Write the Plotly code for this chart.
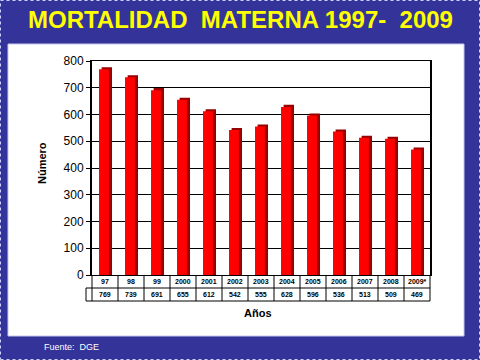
import plotly.graph_objects as go

categories = ["97", "98", "99", "2000", "2001", "2002", "2003", "2004", "2005", "2006", "2007", "2008", "2009*"]
values = [769, 739, 691, 655, 612, 542, 555, 628, 596, 536, 513, 509, 469]
title_text = "MORTALIDAD&nbsp;&nbsp;MATERNA 1997-&nbsp;&nbsp;2009"
y_ticks = [0, 100, 200, 300, 400, 500, 600, 700, 800]

W, H = 480, 360
L, R, T, B = 92, 430, 61, 275  # plot area in px


def px(x):
    return (x - L) / (R - L)


def py(y):
    return (B - y) / (B - T)


xs = list(range(len(categories)))
depth = 8  # 3D depth in data units for shading

fig = go.Figure()
# shadow (side) bars
fig.add_trace(go.Bar(x=[x + 0.07 for x in xs], y=[v + depth for v in values], width=0.4,
                     marker=dict(color="#990000", line=dict(width=0)), hoverinfo="skip"))
# front bars
fig.add_trace(go.Bar(x=[x - 0.04 for x in xs], y=values, width=0.38,
                     marker=dict(color="#ff0000", line=dict(width=0))))

shapes = []
# white panel
shapes.append(dict(type="rect", xref="paper", yref="paper", x0=px(8), x1=px(464), y0=py(336), y1=py(44),
                   fillcolor="white", line=dict(color="#c8c8f0", width=1), layer="below"))
# outer dotted border
shapes.append(dict(type="rect", xref="paper", yref="paper", x0=px(0.5), x1=px(479.5), y0=py(359.5), y1=py(0.5),
                   line=dict(color="#d0d0ff", width=1, dash="dot"), layer="below"))
# table lines
shapes.append(dict(type="line", xref="paper", yref="paper", x0=px(86), x1=1, y0=py(288), y1=py(288),
                   line=dict(color="black", width=1)))
shapes.append(dict(type="line", xref="paper", yref="paper", x0=px(86), x1=1, y0=py(301), y1=py(301),
                   line=dict(color="black", width=1)))
shapes.append(dict(type="line", xref="paper", yref="paper", x0=px(86), x1=px(86), y0=py(288), y1=py(301),
                   line=dict(color="black", width=1)))
n = len(categories)
for i in range(n + 1):
    xb = i / n
    shapes.append(dict(type="line", xref="paper", yref="paper", x0=xb, x1=xb, y0=py(275), y1=py(301),
                       line=dict(color="black", width=1)))

annotations = []
for i, (c, v) in enumerate(zip(categories, values)):
    xc = (i + 0.5) / n
    annotations.append(dict(x=xc, y=py(281.5), xref="paper", yref="paper", text="<b>%s</b>" % c,
                            showarrow=False, font=dict(size=7, color="black", family="Arial, Liberation Sans"),
                            xanchor="center", yanchor="middle"))
    annotations.append(dict(x=xc, y=py(294.5), xref="paper", yref="paper", text="<b>%d</b>" % v,
                            showarrow=False, font=dict(size=7, color="black", family="Arial, Liberation Sans"),
                            xanchor="center", yanchor="middle"))

annotations.append(dict(x=px(240), y=py(20), xref="paper", yref="paper", text="<b>%s</b>" % title_text,
                        showarrow=False, font=dict(size=24, color="#ffff00", family="Arial, Liberation Sans"),
                        xanchor="center", yanchor="middle"))
annotations.append(dict(x=px(258), y=py(313), xref="paper", yref="paper", text="<b>Años</b>",
                        showarrow=False, font=dict(size=11, color="black", family="Arial, Liberation Sans"),
                        xanchor="center", yanchor="middle"))
annotations.append(dict(x=px(42), y=py(163), xref="paper", yref="paper", text="<b>Número</b>", textangle=-90,
                        showarrow=False, font=dict(size=11, color="black", family="Arial, Liberation Sans"),
                        xanchor="center", yanchor="middle"))
annotations.append(dict(x=px(42), y=py(347), xref="paper", yref="paper", text="Fuente:  DGE",
                        showarrow=False, font=dict(size=9, color="white", family="Arial, Liberation Sans"),
                        xanchor="left", yanchor="middle"))

fig.update_layout(
    width=W, height=H,
    margin=dict(l=L, r=W - R, t=T, b=H - B, pad=0),
    paper_bgcolor="#333399",
    plot_bgcolor="white",
    showlegend=False,
    barmode="overlay",
    shapes=shapes,
    annotations=annotations,
    hovermode=False,
    xaxis=dict(range=[-0.5, n - 0.5], showticklabels=False, showgrid=False, zeroline=False,
               showline=True, linecolor="black", linewidth=1, mirror=True, ticks=""),
    yaxis=dict(range=[0, 800], tickvals=y_ticks, showgrid=True, gridcolor="black", gridwidth=1,
               zeroline=False, showline=True, linecolor="black", linewidth=2, mirror=True,
               ticks="outside", ticklen=4, tickcolor="black",
               tickfont=dict(size=12, color="black", family="Arial, Liberation Sans"),
               tickprefix="<b>", ticksuffix="</b>"),
)

fig.write_html("out.html", config={"displayModeBar": False},
               post_script="document.body.style.margin='0';document.body.style.overflow='hidden';")
